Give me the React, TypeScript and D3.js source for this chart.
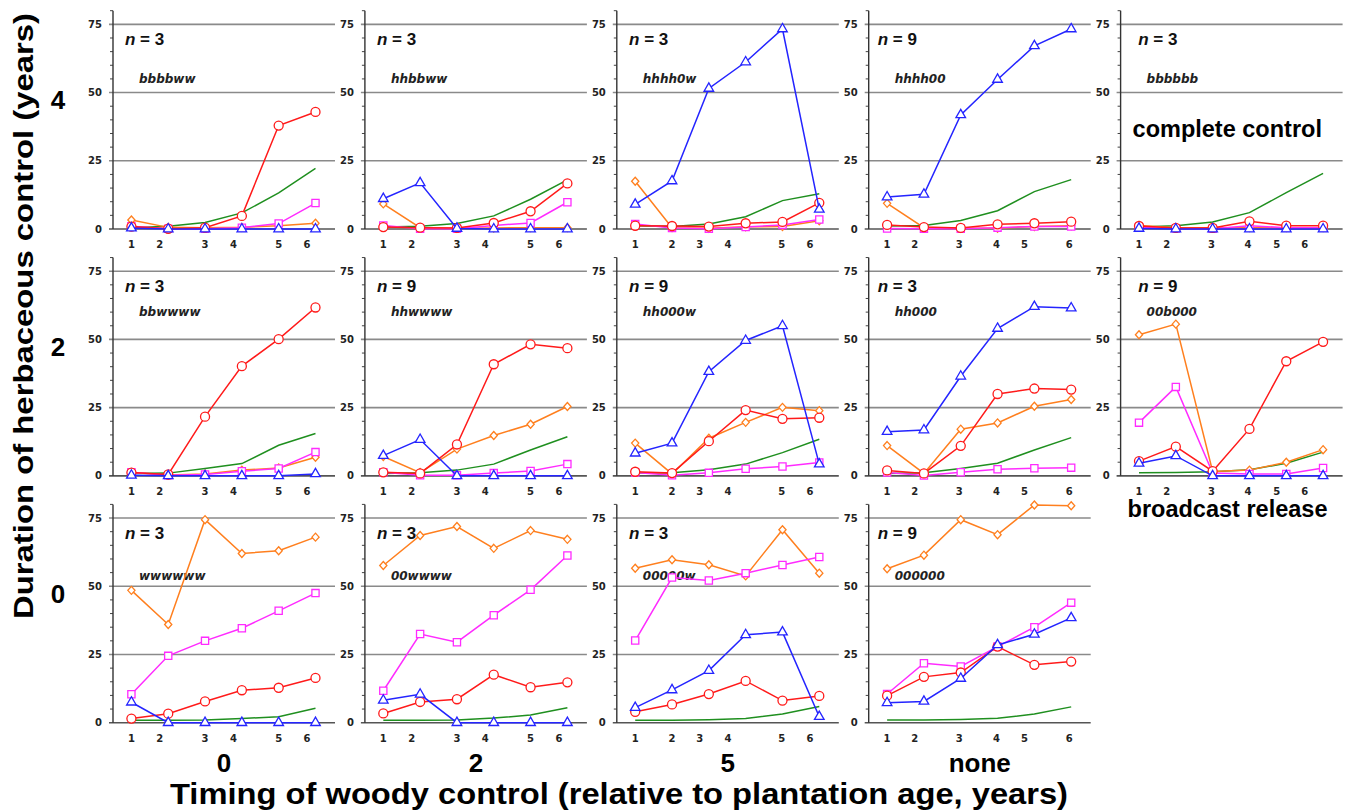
import React from 'react'
import * as d3 from 'd3'

// panels are read row by row: herbaceous control 4, 2, 0 years; woody control 0, 2, 5, none
const panelCodes = ['bbbbww', 'hhbbww', 'hhhh0w', 'hhhh00', 'bbbbbb',
  'bbwwww', 'hhwwww', 'hh000w', 'hh000', '00b000',
  'wwwwww', '00wwww', '00000w', '000000']
const panelN = [3, 3, 3, 9, 3, 3, 9, 9, 3, 9, 3, 3, 3, 9]

const rowLabels = ['4', '2', '0']
const colLabels = ['0', '2', '5', 'none']
const yTicks = [0, 25, 50, 75]

// sample positions (1..6) and where the age labels sit in each column
const samples = [1, 2, 3, 4, 5, 6]
const ageLabels = ['1', '2', '3', '4', '5', '6']
const ageTickPos = [
  [1, 1.77, 3, 3.77, 5, 5.77],
  [1, 1.77, 3, 3.77, 5, 5.77],
  [1, 2, 2.75, 3.52, 4.98, 5.75],
  [1, 1.75, 2.96, 3.97, 4.73, 5.95],
  [1, 1.75, 2.97, 3.96, 4.74, 5.5],
]

const blueTri = [
  [0.3, 0, 0, 0, 0, 0],
  [11.1, 16.9, 0.2, 0, 0, 0],
  [9.0, 17.6, 51.5, 61.2, 73.3, 7.2],
  [11.7, 12.7, 41.8, 54.8, 67.1, 73.3],
  [0.2, 0, 0, 0, 0, 0],
  [0.2, 0, 0, 0, 0, 0.7],
  [7.4, 13.3, 0, 0, 0, 0],
  [8.3, 12.0, 38.2, 49.6, 55.0, 4.3],
  [16.2, 16.8, 36.5, 54.0, 62.0, 61.5],
  [4.6, 7.3, 0, 0, 0, 0],
  [7.5, 0, 0, 0, 0, 0],
  [8.2, 10.4, 0, 0, 0, 0],
  [5.5, 12.0, 19.1, 32.2, 33.2, 2.2],
  [7.3, 7.8, 16.2, 28.5, 32.4, 38.4],
]
const redCirc = [
  [0.9, 0.1, 0.5, 4.8, 37.9, 42.9],
  [0.7, 0.5, 0.4, 2.2, 6.5, 16.7],
  [1.2, 1.1, 0.9, 2.1, 2.6, 9.6],
  [1.5, 0.7, 0.4, 1.7, 2.1, 2.7],
  [1.1, 0.4, 0.4, 2.8, 1.2, 1.2],
  [1.2, 0.5, 21.7, 40.2, 50.1, 61.7],
  [1.3, 0.9, 11.5, 40.9, 48.2, 46.8],
  [1.5, 1.0, 12.7, 24.1, 20.9, 21.3],
  [2.0, 0.9, 11.0, 30.0, 32.0, 31.6],
  [5.4, 10.7, 1.7, 17.2, 42.0, 49.1],
  [1.5, 3.3, 7.8, 11.9, 12.8, 16.4],
  [3.4, 7.6, 8.6, 17.6, 13.0, 14.8],
  [4.0, 6.7, 10.5, 15.3, 8.1, 9.8],
  [9.9, 16.8, 18.4, 27.9, 21.2, 22.4],
]
const orangeDia = [
  [3.3, 0.6, 0.5, 0.6, 1.2, 2.1],
  [9.2, 0.5, 0.3, 0.4, 0.5, 0.5],
  [17.5, 0.5, 0.3, 0.8, 0.9, 3.0],
  [9.4, 0.5, 0.3, 0.3, 0.9, 1.2],
  [1.3, 0.5, 0.5, 0.5, 0.5, 0.5],
  [1.2, 0.3, 0.7, 2.1, 2.9, 6.8],
  [7.1, 1.2, 9.8, 14.8, 18.9, 25.4],
  [12.0, 0.7, 13.8, 19.6, 25.1, 23.9],
  [11.1, 0.9, 17.1, 19.4, 25.5, 28.0],
  [51.7, 55.6, 1.6, 2.1, 5.0, 9.6],
  [48.5, 36.0, 74.4, 62.0, 63.0, 68.0],
  [57.6, 68.6, 71.9, 63.9, 70.4, 67.2],
  [56.6, 59.7, 57.9, 53.8, 70.7, 54.8],
  [56.4, 61.4, 74.4, 68.9, 79.8, 79.5],
]
const magentaSq = [
  [1.0, 0.1, 0.1, 0.5, 2.0, 9.5],
  [1.3, 0.1, 0.1, 1.3, 2.2, 9.8],
  [1.8, 0.4, 0.1, 0.7, 1.5, 3.5],
  [0.2, 0.1, 0.1, 0.5, 0.9, 0.9],
  [0.6, 0.2, 0.1, 1.2, 0.5, 0.5],
  [1.3, 0.2, 0.5, 1.7, 2.7, 8.7],
  [1.3, 0.2, 0.2, 1.0, 1.8, 4.3],
  [1.2, 0.2, 1.1, 2.6, 3.4, 4.9],
  [1.2, 0.1, 1.3, 2.4, 2.8, 3.0],
  [19.5, 32.6, 1.0, 0.7, 0.7, 2.9],
  [10.4, 24.5, 30.0, 34.6, 41.0, 47.5],
  [11.7, 32.5, 29.5, 39.4, 48.7, 61.3],
  [30.1, 53.2, 52.1, 54.8, 57.8, 60.7],
  [10.5, 21.8, 20.6, 27.9, 35.0, 44.0],
]
const greenLine = [
  [0.5, 1.0, 2.4, 5.9, 13.2, 22.2],
  [0.7, 1.0, 2.0, 4.8, 10.9, 18.0],
  [1.2, 0.9, 1.8, 4.5, 10.4, 12.9],
  [1.1, 1.3, 3.1, 6.7, 13.7, 18.1],
  [0.7, 1.2, 2.6, 6.0, 13.3, 20.4],
  [0.9, 1.0, 2.7, 4.5, 11.2, 15.5],
  [0.9, 1.1, 2.1, 4.3, 9.5, 14.3],
  [1.0, 1.1, 2.2, 4.3, 8.5, 13.4],
  [0.9, 1.1, 2.7, 4.6, 9.5, 14.0],
  [1.1, 1.2, 1.5, 2.2, 4.6, 8.7],
  [0.9, 0.9, 1.0, 1.5, 2.2, 5.3],
  [0.9, 0.9, 1.0, 1.7, 2.8, 5.5],
  [0.9, 0.9, 1.1, 1.5, 3.2, 5.9],
  [1.0, 1.0, 1.2, 1.6, 3.2, 5.8],
]

const W = 1346
const H = 810
const panelW = 222
const plotH = 218.3
const colX = (c: number) => 113 + c * 251.9
const rowZero = (r: number) => 229 + r * 246.85
const nLabelX = [12, 12, 12.3, 9, 17.6]
const tickFont = '"DejaVu Sans", sans-serif'
const armFont = '"Liberation Sans", Arial, sans-serif'

const x = d3.scaleLinear().domain([0.5, 6.53]).range([0, panelW])
const y = d3.scaleLinear().domain([0, 80]).range([plotH, 0])

const series = [
  { data: greenLine, color: '#1f8f1f', shape: null },
  { data: orangeDia, color: '#ff7f1e', shape: 'diamond' },
  { data: magentaSq, color: '#ff2bff', shape: d3.symbolSquare },
  { data: redCirc, color: '#ff1a1a', shape: d3.symbolCircle },
  { data: blueTri, color: '#2424ff', shape: d3.symbolTriangle },
]

const sizes = new Map<any, number>([
  [d3.symbolSquare, 52],
  [d3.symbolCircle, 64],
  [d3.symbolTriangle, 40],
])

const diamond = 'M0,-4L3.6,0L0,4L-3.6,0Z'

const line = d3.line<number>().x((_, i) => x(samples[i])).y(d => y(d))

function Panel({ idx }: { idx: number }) {
  const r = Math.floor(idx / 5)
  const c = idx % 5
  const minor = d3.range(5, 81, 5).filter(v => v % 25 !== 0)
  return (
    <g transform={`translate(${colX(c)},${rowZero(r) - plotH})`}>
      {minor.map(v => (
        <line key={v} x1={-3} x2={0} y1={y(v)} y2={y(v)} stroke="#444" strokeWidth={1} />
      ))}
      {yTicks.map(v => (
        <g key={v}>
          <line x1={-4} x2={panelW} y1={y(v)} y2={y(v)} stroke={v === 0 ? '#555' : '#8a8a8a'} strokeWidth={1.6} />
          <text x={-11} y={y(v)} dy="0.36em" textAnchor="end" fontFamily={tickFont} fontWeight="bold" fontSize={10} fill="#222">{v}</text>
        </g>
      ))}
      <line x1={0} x2={0} y1={0} y2={plotH} stroke="#333" strokeWidth={1.4} />
      {ageTickPos[c].map((p, i) => (
        <text key={i} x={x(p)} y={plotH + 19.5} textAnchor="middle" fontFamily={tickFont} fontWeight="bold" fontSize={10} fill="#222">{ageLabels[i]}</text>
      ))}
      <text x={nLabelX[c]} y={y(75) + 21} fontFamily={armFont} fontSize={17} fontWeight="bold" fill="#111">
        <tspan fontStyle="italic">n</tspan>
        <tspan> = {panelN[idx]}</tspan>
      </text>
      <text x={26} y={y(r === 1 ? 58.4 : r === 0 ? 53.5 : 52.4)} fontFamily={tickFont} fontStyle="italic" fontWeight="bold" fontSize={12} fill="#222">{panelCodes[idx]}</text>
      {series.map((s, si) => {
        const vals = s.data[idx]
        return (
          <g key={si}>
            <path d={line(vals) || ''} fill="none" stroke={s.color} strokeWidth={1.5} />
            {s.shape && vals.map((v, i) => (
              <path key={i}
                transform={`translate(${x(samples[i])},${y(v)})`}
                d={s.shape === 'diamond' ? diamond : d3.symbol().type(s.shape as any).size(sizes.get(s.shape) || 40)() || ''}
                fill="#fff" stroke={s.color} strokeWidth={1.3} />
            ))}
          </g>
        )
      })}
    </g>
  )
}

export default function App() {
  return (
    <svg width={W} height={H} style={{ position: 'absolute', left: 0, top: 0, background: '#fff' }}>
      <rect width={W} height={H} fill="#fff" />
      {panelCodes.map((_, i) => <Panel key={i} idx={i} />)}
      <text x={colX(4) + 12} y={137} fontFamily={armFont} fontWeight="bold" fontSize={23.5} fill="#000">complete control</text>
      <text x={colX(4) + 7} y={517} fontFamily={armFont} fontWeight="bold" fontSize={23.5} fill="#000">broadcast release</text>
      {rowLabels.map((l, r) => (
        <text key={l + r} x={58} y={rowZero(r) - 120} textAnchor="middle" fontFamily={armFont} fontWeight="bold" fontSize={26} fill="#000">{l}</text>
      ))}
      {colLabels.map((l, c) => (
        <text key={l} x={colX(c) + 111} y={772} textAnchor="middle" fontFamily={armFont} fontWeight="bold" fontSize={26} fill="#000">{l}</text>
      ))}
      <text transform="translate(33,316) rotate(-90)" textAnchor="middle" fontFamily={armFont} fontWeight="bold" fontSize={28} textLength={606} lengthAdjust="spacingAndGlyphs" fill="#000">Duration of herbaceous control (years)</text>
      <text x={619} y={804} textAnchor="middle" fontFamily={armFont} fontWeight="bold" fontSize={29} textLength={898} lengthAdjust="spacingAndGlyphs" fill="#000">Timing of woody control (relative to plantation age, years)</text>
    </svg>
  )
}
